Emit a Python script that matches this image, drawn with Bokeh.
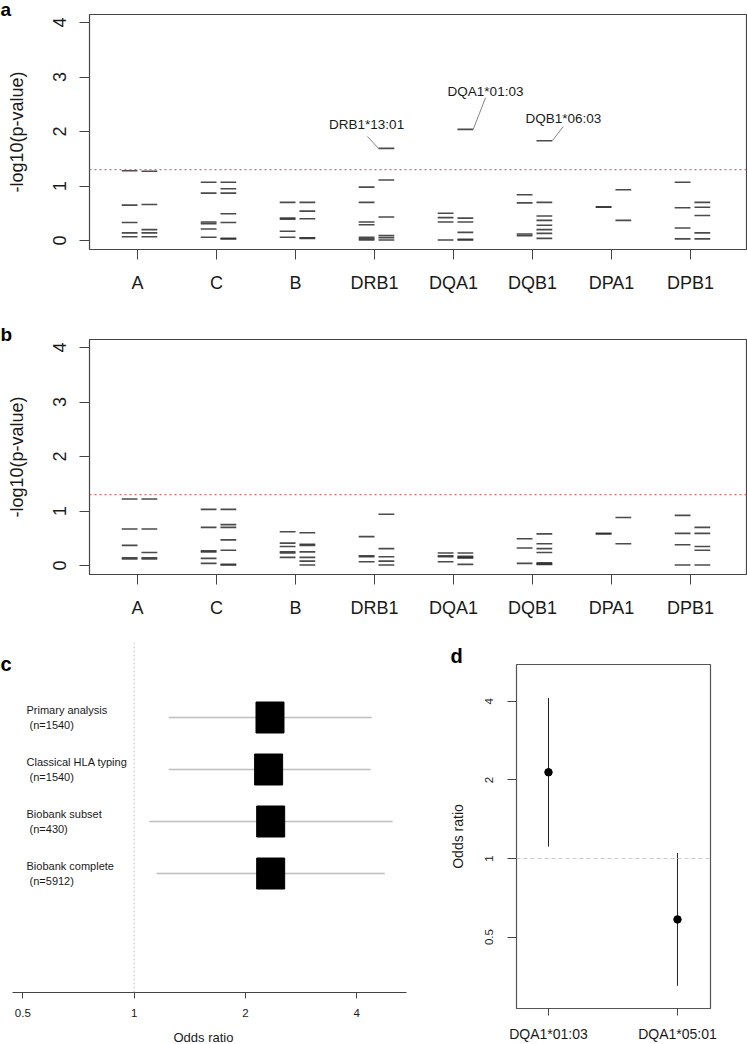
import numpy as np
from bokeh.plotting import figure
from bokeh.models import Range1d, FixedTicker, Span, Label, ColumnDataSource
from bokeh.layouts import column, row
from bokeh.embed import file_html
from bokeh.resources import INLINE
from bokeh.core.properties import value

FONT = "Liberation Sans"

# ---------------- data ----------------
genes = ["A", "C", "B", "DRB1", "DQA1", "DQB1", "DPA1", "DPB1"]
p_threshold = 0.05

# panel a: -log10(p) per allele, two columns per gene
a_left = [
    [1.28, 0.65, 0.33, 0.14, 0.07],
    [1.07, 0.87, 0.34, 0.31, 0.21, 0.06],
    [0.70, 0.41, 0.39, 0.17, 0.06],
    [0.98, 0.70, 0.34, 0.29, 0.06, 0.03, 0.01],
    [0.50, 0.42, 0.34, 0.01],
    [0.84, 0.69, 0.12, 0.09],
    [0.62, 0.61],
    [1.07, 0.60, 0.23, 0.03],
]
a_right = [
    [1.27, 0.66, 0.20, 0.14, 0.07],
    [1.07, 0.95, 0.87, 0.49, 0.33, 0.04, 0.03],
    [0.70, 0.54, 0.40, 0.05, 0.04],
    [1.69, 1.11, 0.43, 0.09, 0.05, 0.01],
    [2.04, 0.41, 0.34, 0.15, 0.02, 0.01],
    [1.83, 0.70, 0.45, 0.37, 0.28, 0.20, 0.13, 0.04],
    [0.93, 0.37],
    [0.70, 0.61, 0.46, 0.14, 0.03],
]

# panel b
b_left = [
    [1.22, 0.67, 0.37, 0.14, 0.12],
    [1.03, 0.70, 0.27, 0.25, 0.13, 0.04],
    [0.62, 0.41, 0.35, 0.25, 0.23, 0.15],
    [0.53, 0.18, 0.16, 0.07],
    [0.23, 0.18, 0.16, 0.07],
    [0.49, 0.32, 0.04],
    [0.59, 0.58],
    [0.92, 0.59, 0.38, 0.01],
]
b_right = [
    [1.22, 0.67, 0.24, 0.14, 0.12],
    [1.03, 0.75, 0.70, 0.47, 0.28, 0.02, 0.01],
    [0.60, 0.39, 0.37, 0.25, 0.15, 0.08, 0.01],
    [0.94, 0.31, 0.16, 0.08, 0.01],
    [0.23, 0.17, 0.15, 0.14, 0.02],
    [0.58, 0.40, 0.31, 0.24, 0.05, 0.03, 0.02],
    [0.88, 0.40],
    [0.70, 0.59, 0.35, 0.28, 0.01],
]

# annotated alleles in panel a
annot_alleles = ["DRB1*13:01", "DQA1*01:03", "DQB1*06:03"]
annot_genes = ["DRB1", "DQA1", "DQB1"]
annot_values = [1.69, 2.04, 1.83]

# panel c: forest plot
analyses = ["Primary analysis", "Classical HLA typing", "Biobank subset", "Biobank complete"]
analysis_n = [1540, 1540, 430, 5912]
or_c = [2.33, 2.31, 2.34, 2.34]
lo_c = [1.24, 1.24, 1.10, 1.15]
hi_c = [4.39, 4.36, 5.00, 4.76]

# panel d
alleles_d = ["DQA1*01:03", "DQA1*05:01"]
or_d = [2.14, 0.584]
lo_d = [1.11, 0.325]
hi_d = [4.12, 1.05]

# ---------------- helpers ----------------
TXT = "#1a1a1a"
FRAME = "#444444"


def no_align(p):
    if "frame_align" in p.properties():
        p.frame_align = False


def style_axis(ax, size, tick_out, standoff):
    ax.major_label_text_font = FONT
    ax.major_label_text_font_size = size
    ax.major_label_text_color = TXT
    ax.major_tick_out = tick_out
    ax.major_tick_in = 0
    ax.major_tick_line_color = FRAME
    ax.minor_tick_line_color = None
    ax.major_label_standoff = standoff
    ax.axis_label_text_font = FONT
    ax.axis_label_text_font_style = "normal"
    ax.axis_label_text_color = TXT


def title_letter(p, text, offset, standoff, valign, size="19px"):
    p.title.text = text
    p.title.align = "left"
    p.title.offset = offset
    p.title.standoff = standoff
    p.title.vertical_align = valign
    p.title.text_font = FONT
    p.title.text_font_style = "bold"
    p.title.text_font_size = size
    p.title.text_color = "black"


def manhattan(left, right, letter, border_bottom, annotate):
    x0, x1, y = [], [], []
    for i, (l, r) in enumerate(zip(left, right)):
        t = i + 1
        for v in l:
            x0.append(t - 0.2); x1.append(t); y.append(v)
        for v in r:
            x0.append(t + 0.05); x1.append(t + 0.25); y.append(v)
    src = ColumnDataSource(dict(x0=x0, x1=x1, y=y))

    p = figure(frame_width=657, frame_height=235, min_border_left=89, min_border_right=1,
               min_border_top=14, min_border_bottom=border_bottom,
               x_range=Range1d(0.392, 8.709), y_range=Range1d(-0.165, 4.147),
               output_backend="svg", toolbar_location=None)
    no_align(p)
    p.grid.visible = False
    p.outline_line_color = FRAME
    p.outline_line_width = 1.2

    p.segment(x0="x0", y0="y", x1="x1", y1="y", source=src,
              line_color="#2b2b2b", line_alpha=0.85, line_width=1.6)
    p.add_layout(Span(location=-np.log10(p_threshold), dimension="width",
                      line_color="#e06666", line_dash="2 3", line_width=1.2))

    if annotate:
        offs = {"DRB1": ((0.05, -0.09, 0.22), (-0.10, 0.44)),
                "DQA1": ((0.25, 0.405, 0.58), (0.405, 0.69)),
                "DQB1": ((0.25, 0.39, 0.26), (0.39, 0.41))}
        lx0, ly0, lx1, ly1, tx, ty = [], [], [], [], [], []
        for g, v in zip(annot_genes, annot_values):
            t = genes.index(g) + 1
            (sx, ex, ey), (dx, dy) = offs[g]
            lx0.append(t + sx); ly0.append(v)
            lx1.append(t + ex); ly1.append(v + ey)
            tx.append(t + dx); ty.append(v + dy)
        p.segment(x0=lx0, y0=ly0, x1=lx1, y1=ly1, line_color="#777777", line_width=0.9)
        p.text(x=tx, y=ty, text=annot_alleles, text_font=value(FONT), text_font_size="13.5px",
               text_align="center", text_baseline="middle", text_color=TXT)

    p.xaxis.ticker = FixedTicker(ticks=list(range(1, len(genes) + 1)))
    p.xaxis.major_label_overrides = {i + 1: g for i, g in enumerate(genes)}
    p.yaxis.ticker = FixedTicker(ticks=[0, 1, 2, 3, 4])
    p.yaxis.major_label_orientation = "vertical"
    p.yaxis.axis_label = "-log10(p-value)"
    p.yaxis.axis_label_text_font_size = "18px"
    p.yaxis.axis_label_standoff = 24
    style_axis(p.xaxis[0], "18px", 10, 13)
    style_axis(p.yaxis[0], "18px", 10, 13)
    p.axis.axis_line_color = None
    title_letter(p, letter, -89, -14, "top")
    return p


pa = manhattan(a_left, a_right, "a", 76, True)
pb = manhattan(b_left, b_right, "b", 46, False)

# ---------------- panel c ----------------
rows = list(range(1, len(analyses) + 1))
src_c = ColumnDataSource(dict(
    row=rows, orv=or_c, lo=lo_c, hi=hi_c,
    label=[f"{a}\n\u00a0(n={n})" for a, n in zip(analyses, analysis_n)]))
xr_c = Range1d(2 ** -1.2003, 2 ** 2.4464)
pc = figure(frame_width=406, frame_height=350, min_border_left=0, min_border_right=14,
            min_border_top=22, min_border_bottom=52, x_axis_type="log",
            x_range=xr_c, y_range=Range1d(6.288, -0.4423), y_axis_location=None,
            output_backend="svg", toolbar_location=None)
no_align(pc)
pc.grid.visible = False
pc.outline_line_color = None
pc.add_layout(Span(location=1, dimension="height", line_color="#c8c8c8",
                   line_dash="2 2", line_width=1))
pc.segment(x0="lo", y0="row", x1="hi", y1="row", source=src_c,
           line_color="#bdbdbd", line_width=1.6)
pc.rect(x="orv", y="row", width=28, height=31, width_units="screen", height_units="screen",
        source=src_c, fill_color="black", line_color="black")
pc.text(x=xr_c.start, y="row", text="label", source=src_c, x_offset=26,
        text_font=value(FONT), text_font_size="11px", text_baseline="middle",
        text_align="left", text_color=TXT, text_line_height=1.25)
pc.xaxis.ticker = FixedTicker(ticks=[0.5, 1, 2, 4])
pc.xaxis.major_label_overrides = {0.5: "0.5", 1: "1", 2: "2", 4: "4"}
pc.xaxis.bounds = (2 ** -1.0925, 2 ** 2.4464)
pc.xaxis.axis_label = "Odds ratio"
pc.xaxis.axis_label_text_font_size = "13px"
pc.xaxis.axis_label_standoff = 10
style_axis(pc.xaxis[0], "11.5px", 6, 10)
pc.xaxis.axis_line_color = FRAME
pc.add_layout(Label(x=0, y=329, x_units="screen", y_units="screen", text="c",
                    text_font=FONT, text_font_style="bold", text_font_size="20px",
                    text_color="black", text_baseline="alphabetic"))

# ---------------- panel d ----------------
src_d = ColumnDataSource(dict(x=[1, 2], orv=or_d, lo=lo_d, hi=hi_d))
pd_ = figure(frame_width=194, frame_height=344, min_border_left=96, min_border_right=37,
             min_border_top=44, min_border_bottom=36, y_axis_type="log",
             x_range=Range1d(0.752, 2.256), y_range=Range1d(2 ** -1.91, 2 ** 2.47),
             output_backend="svg", toolbar_location=None)
no_align(pd_)
pd_.grid.visible = False
pd_.outline_line_color = "#555555"
pd_.outline_line_width = 1.2
pd_.add_layout(Span(location=1, dimension="width", line_color="#cccccc",
                    line_dash="4 3", line_width=1))
pd_.segment(x0="x", y0="lo", x1="x", y1="hi", source=src_d, line_color="#222222", line_width=1)
pd_.scatter(x="x", y="orv", source=src_d, size=7.5, marker="circle",
            fill_color="black", line_color="black")
pd_.xaxis.ticker = FixedTicker(ticks=[1, 2])
pd_.xaxis.major_label_overrides = {1: alleles_d[0], 2: alleles_d[1]}
pd_.yaxis.ticker = FixedTicker(ticks=[0.5, 1, 2, 4])
pd_.yaxis.major_label_overrides = {0.5: "0.5", 1: "1", 2: "2", 4: "4"}
pd_.yaxis.major_label_orientation = "vertical"
pd_.yaxis.axis_label = "Odds ratio"
pd_.yaxis.axis_label_text_font_size = "14px"
pd_.yaxis.axis_label_standoff = 17
style_axis(pd_.xaxis[0], "14px", 7, 10)
style_axis(pd_.yaxis[0], "11.5px", 9, 14)
pd_.axis.axis_line_color = None
title_letter(pd_, "d", -66, -4, "bottom", "20px")

layout = column(pa, pb, row(pc, pd_))
open("out.html", "w").write(file_html(layout, INLINE))
